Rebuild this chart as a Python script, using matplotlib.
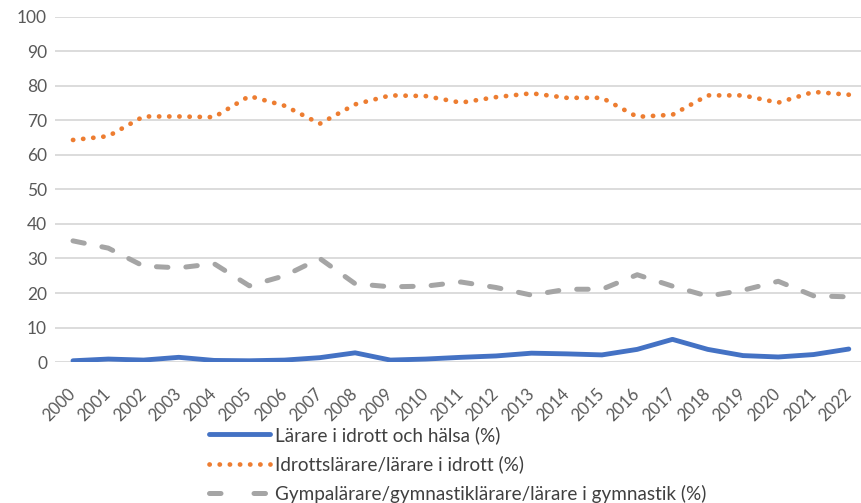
import matplotlib.pyplot as plt

years = [str(y) for y in range(2000, 2023)]

# Lärare i idrott och hälsa (%)
larare_ioh = [0.4, 0.9, 0.6, 1.4, 0.5, 0.4, 0.6, 1.3, 2.7, 0.6, 0.9, 1.4,
              1.8, 2.6, 2.4, 2.1, 3.7, 6.6, 3.7, 1.9, 1.5, 2.2, 3.8]
# Idrottslärare/lärare i idrott (%)
idrottslarare = [64.3, 65.4, 71.1, 71.1, 70.9, 77.0, 74.2, 69.0, 74.6, 77.2, 77.0, 75.1,
                 76.7, 77.8, 76.5, 76.5, 71.0, 71.6, 77.2, 77.2, 75.1, 78.2, 77.4]
# Gympalärare/gymnastiklärare/lärare i gymnastik (%)
gympalarare = [35.1, 33.0, 27.8, 27.3, 28.5, 22.1, 25.0, 30.0, 22.7, 21.8, 22.0, 23.2,
               21.6, 19.4, 21.1, 21.1, 25.3, 22.0, 19.1, 20.8, 23.4, 19.2, 18.9]

labels = ["Lärare i idrott och hälsa (%)",
          "Idrottslärare/lärare i idrott (%)",
          "Gympalärare/gymnastiklärare/lärare i gymnastik (%)"]

plt.rcParams['font.family'] = ['Lato', 'DejaVu Sans']

fig = plt.figure(figsize=(8.61, 5.03), dpi=100)
ax = fig.add_axes([0.0643, 0.280, 0.942, 0.687])

x = list(range(len(years)))
ax.plot(x, larare_ioh, color='#4472C4', lw=3.5, solid_capstyle='round',
        solid_joinstyle='round', label=labels[0], zorder=3)
ax.plot(x, idrottslarare, color='#ED7D31', lw=3.4, linestyle=(0, (0.05, 2.1)),
        dash_capstyle='round', label=labels[1], zorder=3)
ax.plot(x, gympalarare, color='#A5A5A5', lw=3.6, linestyle=(0, (2.3, 3.6)),
        dash_capstyle='round', label=labels[2], zorder=3)

ax.set_xlim(-0.5, 22.5)
ax.set_ylim(0, 100)
ax.set_yticks(range(0, 101, 10))
ax.grid(axis='y', color='#D9D9D9', lw=1.3)
ax.set_axisbelow(True)
for s in ax.spines.values():
    s.set_visible(False)
ax.tick_params(axis='y', length=0, labelsize=12.5, colors='#595959', pad=6)

# year labels placed below the axis, rotated like the original
ax.set_xticks(x)
ax.set_xticklabels([])
ax.tick_params(axis='x', length=0)
for xi, yr in zip(x, years):
    ax.annotate(yr, (xi, 0), xycoords=('data', 'axes fraction'),
                xytext=(0, -21), textcoords='offset points',
                rotation=45, ha='right', va='center', rotation_mode='anchor',
                fontsize=12, color='#595959')

leg = fig.legend(loc='upper left', bbox_to_anchor=(209 / 861, 1 - 426 / 503), frameon=False,
                 fontsize=13.6, labelcolor='#404040', handlelength=3.25,
                 handletextpad=0.27, labelspacing=0.6, borderaxespad=0, borderpad=0)
leg.legend_handles[2].set_linestyle((0, (2.3, 6.6)))

fig.savefig('out.png', dpi=100)
